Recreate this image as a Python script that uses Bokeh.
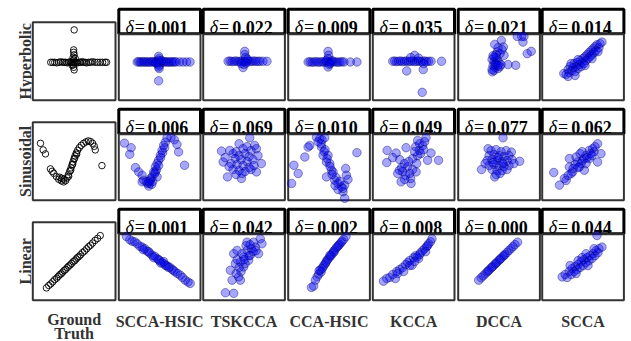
import math
from bokeh.plotting import figure
from bokeh.models import Range1d
from bokeh.core.properties import value
from bokeh.embed import file_html
from bokeh.resources import INLINE

# ---------------- data ----------------
methods = ["SCCA-HSIC", "TSKCCA", "CCA-HSIC", "KCCA", "DCCA", "SCCA"]
relations = ["Hyperbolic", "Sinusoidal", "Linear"]

delta_hyperbolic = [0.001, 0.022, 0.009, 0.035, 0.021, 0.014]
delta_sinusoidal = [0.006, 0.069, 0.010, 0.049, 0.077, 0.062]
delta_linear = [0.001, 0.042, 0.002, 0.008, 0.000, 0.044]

# ground truth samples (x, y measured downward), panel extent 83 x 78
hyp_gt = [(18, 40), (20, 40), (22, 40), (24, 40.5), (26, 40), (28, 39.5), (30, 40), (31.5, 40), (33, 40),
          (34.5, 40.5), (36, 40), (37.5, 39.5), (39, 40), (40, 40.5), (41, 40), (42, 39.5), (43, 40), (44, 40),
          (45, 40.5), (46.5, 40), (48, 40), (49.5, 39.5), (51, 40), (52.5, 40), (54, 40.5), (56, 40), (58, 40),
          (60, 39.5), (62.5, 40), (65, 40), (67.5, 40), (70, 40), (72.5, 40), (74, 40),
          (41, 27.6), (41, 30), (41.5, 32.5), (40.5, 35), (41, 37.5), (40.5, 42.5), (41, 45), (41.5, 47.6),
          (42.5, 36), (39.5, 43), (41.5, 7.6)]
sin_gt = [(7.7, 21), (10.4, 27.6), (12.7, 31.6), (69.4, 43.3),
          (17.7, 46.6), (19.4, 49), (21, 51), (23.7, 54.3), (26, 57), (28.7, 58.6), (31, 59.6), (33, 58.3),
          (34.4, 55.6), (35.7, 52.3), (37, 49), (38.4, 45.6), (39.4, 42.6), (40.4, 39.6), (41.4, 36.6),
          (42.4, 33.6), (43.7, 30.6), (45, 28), (46.7, 25.3), (48.7, 23), (51, 21), (53.4, 19.6), (55.7, 18.6),
          (58, 19.3), (60, 21), (61.7, 24), (62.7, 27.6), (36, 54), (38, 48), (40, 42), (42, 36), (44, 32),
          (29, 56), (31, 57), (27, 55)]
lin_gt = [(13.7, 65.6), (16, 63.2), (18, 61.6), (20, 59.5), (22, 57.3), (24, 55.8), (25.5, 54.2), (27, 52.5),
          (28.5, 51.5), (30, 49.8), (31.5, 48.2), (33, 47.1), (34.5, 45.4), (36, 43.8), (37.5, 42.7), (39, 41.1),
          (40.5, 39.4), (42, 38.4), (43.5, 36.7), (45, 35.1), (46.5, 34), (48, 32.4), (50, 30.2), (52, 28.7),
          (54, 26.5), (56, 24.4), (58, 22.9), (60, 20.7), (62.5, 18.1), (65, 16.1), (67.7, 13.3)]

# method samples (x, y measured downward), panel extent 82 x 67
hyp_scca_hsic = [(18.5, 28.4), (20, 28), (21.5, 28.6), (23, 28.4), (24.5, 28), (26, 28.6), (27.5, 28.4), (29, 28.2),
                 (30.5, 28.6), (32, 28.4), (33.5, 28), (35, 28.5), (36.5, 28.4), (38, 28), (39.5, 28.6), (41, 28.4),
                 (42.5, 28.2), (44, 28.6), (45.5, 28.4), (47, 28), (48.5, 28.4), (50, 28.6), (51.5, 28.2), (53, 28.4),
                 (54.5, 28.5), (56, 28.2), (57.5, 28.4), (61, 28.4), (64.5, 28.4), (68, 28.4), (71.5, 28.4),
                 (40, 22.7), (40.5, 24.8), (40, 26.7), (39.5, 30.5), (40.5, 32), (40, 33.5), (40.5, 35), (43, 27),
                 (37, 29.5), (40, 47.4)]
hyp_tskcca = [(25, 27.7), (27, 27.5), (29, 28), (31, 27.7), (33, 27.4), (35, 28), (37, 27.7), (39, 27.4), (41, 28),
              (43, 27.7), (45, 27.4), (47, 28), (49, 27.7), (51, 27.4), (53, 27.8), (55, 27.7), (57, 27.7), (60, 27.7),
              (64, 27.7), (41.7, 17.7), (41.7, 21), (42.5, 24), (41, 31), (40, 34), (44.5, 25.5), (38, 30), (43, 29.5)]
hyp_cca_hsic = [(20, 28.4), (22, 28.2), (24, 28.6), (26, 28.4), (28, 28), (30, 28.6), (32, 28.4), (34, 28.2),
                (36, 28.6), (38, 28.4), (40, 28), (42, 28.6), (44, 28.4), (46, 28.2), (48, 28.4), (50, 28.6),
                (52, 28.4), (54, 28.2), (56, 28.4), (62.4, 28.4), (69, 28.4), (40, 17.7), (40.5, 21.7), (40, 25),
                (41, 31), (40, 33.4), (38, 27), (44, 27), (42, 30)]
hyp_kcca = [(20, 27.7), (22, 27.5), (24, 28), (26, 27.7), (28, 27.4), (30, 28), (32, 27.7), (34, 27.4), (36, 28),
            (38, 27.7), (40, 27.4), (42, 28), (44, 27.7), (46, 27.4), (48, 28), (50, 27.7), (52, 27.4), (54, 28),
            (56, 27.7), (58.5, 27.7), (69, 27.7), (34, 37.4), (50.6, 36), (49.6, 59), (42, 21.7), (38, 24),
            (46, 24.5), (51, 30)]
hyp_dcca = [(36.7, 10.7), (43.3, 6.7), (45.3, 13.3), (39.3, 18.3), (46, 21.7), (36, 23.3), (50, 31), (57.7, 31.7),
            (34.3, 38.3), (59.3, 2.7), (63.7, 2.7), (66, 2.7), (65, 8.3), (69.3, 20), (73.3, 17.7), (40, 14), (42, 20),
            (44, 16), (38, 21), (34, 26), (36, 28), (38, 30), (35, 32), (37, 34), (40, 35), (42, 33), (36, 37),
            (34, 36), (39, 27), (41, 29), (43, 31), (38, 24), (35, 22), (37, 31), (40, 32)]
hyp_scca = [(21.7, 40), (24, 41), (26, 36), (27, 39), (28, 33), (30, 37), (31, 34), (32, 30), (33, 38), (34, 33),
            (35, 29), (36, 35), (37, 31), (38, 27), (39, 33), (40, 29), (41, 25), (42, 30), (43, 23), (44, 27),
            (45, 21), (46, 25), (47, 19), (48, 23), (49, 17), (50, 21), (51, 15), (52, 19), (53, 13), (54, 17),
            (55, 11), (57, 14), (58, 10), (60, 8.3), (29, 30), (36, 26), (43, 32), (50, 25), (33, 42), (26, 43),
            (56, 18)]

sin_scca_hsic = [(5.7, 9.4), (12.4, 14), (11, 20.7), (60, 18.3), (66, 31.7), (48.4, 4), (52.4, 4), (55.7, 6),
                 (58.4, 10.7), (46.7, 8.4), (45, 11.7), (43.4, 16.7), (41.7, 21.7), (40, 26.7), (38.4, 30),
                 (36.7, 33.4), (35, 38.4), (33.4, 43.4), (31.7, 46.7), (31, 50), (30, 52.7), (16.7, 34), (20, 38.4),
                 (23.4, 41.7), (25, 46.7), (23.4, 48.4), (27.7, 48.4), (36.7, 38.4), (38.4, 43.4), (32, 45),
                 (34, 48), (29, 50), (33, 51), (30, 48), (36, 40), (38, 36), (40, 32), (42, 24), (44, 19), (46, 14)]
sin_tskcca = [(46.7, 4), (36, 10), (18.4, 17.4), (26.7, 16.7), (51.7, 11.7), (53.4, 15), (20, 28.4), (58.4, 30),
              (24.4, 43.4), (38.4, 45), (53.4, 38.4), (30, 20), (33, 18), (40, 15), (44, 13), (48, 17), (36, 22),
              (42, 20), (46, 23), (32, 25), (38, 26), (44, 28), (50, 26), (28, 30), (34, 31), (40, 32), (46, 34),
              (30, 36), (36, 37), (42, 38), (48, 36), (33, 41), (39, 40), (26, 33), (55, 22), (22, 24), (51, 32)]
sin_cca_hsic = [(28.4, 3.4), (31.7, 5), (36.7, 4), (21.7, 11.7), (20, 13.4), (16.7, 23.4), (5.7, 31.7), (10, 40),
                (3.4, 50), (33.4, 13.4), (35, 21.7), (40, 21.7), (38.4, 28.4), (41.7, 30), (43.4, 36.7), (45, 38.4),
                (46.7, 46.7), (50, 50), (53.4, 53.4), (56.7, 51.7), (55, 58.4), (56.7, 65), (58.4, 41.7), (57.7, 35),
                (38.4, 43.4), (69, 19), (30, 8), (33, 10), (37, 16), (42, 33), (48, 44), (52, 48), (55, 55), (50, 56),
                (47, 52), (44, 41), (39, 25), (36, 18), (60, 46), (34, 6)]
sin_kcca = [(53.4, 4), (45, 6.7), (14.4, 16.7), (14, 29), (23.4, 19.4), (33.4, 14), (58.4, 19.4), (66, 26.7),
            (55, 26.7), (26.7, 36.7), (25, 40), (28.4, 48.4), (38.4, 50), (38, 45), (43.4, 38.4), (40, 36), (35, 33),
            (31.7, 30), (40, 25), (46.7, 16.7), (50, 12), (43, 13), (48, 20), (51, 16), (45, 22), (42, 18), (36, 28),
            (30, 38), (33, 42), (37, 40), (32, 46), (29, 34), (47, 10), (52, 8), (20, 24), (27, 26), (44, 30)]
sin_dcca = [(45, 4), (61.7, 27.7), (23.4, 36), (30, 15), (53.4, 18.4), (36.7, 43.4), (33, 17), (38, 16), (43, 18),
            (48, 17), (31, 22), (36, 21), (41, 22), (46, 23), (51, 22), (29, 27), (34, 26), (39, 27), (44, 28),
            (49, 27), (54, 26), (31, 32), (36, 31), (41, 32), (46, 33), (51, 32), (34, 36), (39, 37), (44, 37),
            (49, 36), (38, 41), (42, 40), (27, 30), (56, 30), (40, 24), (35, 29), (45, 30)]
sin_scca = [(17.3, 51.7), (11.6, 39), (22.3, 45), (24, 47), (30.6, 38.4), (27.3, 33.4), (35.6, 28.4), (34, 23.4),
            (40.6, 26.7), (44, 21.7), (47.3, 25), (47.3, 16.7), (42.3, 36.7), (50.6, 15), (55.6, 10), (59, 20),
            (55.6, 28.4), (27.3, 25), (37.3, 33.4), (33, 31), (39, 30), (42, 25), (45, 24), (49, 20), (52, 18),
            (38, 20), (31, 35), (29, 40), (36, 34), (44, 30), (50, 22), (53, 13), (26, 42), (40, 18)]

lin_scca_hsic = [(7.7, 2.7), (13.4, 7.4), (18.4, 10), (23.4, 13.4), (28.4, 17.4), (33.4, 21.7), (38.4, 25),
                 (43.4, 29), (48.4, 32.4), (53.4, 35.7), (56.7, 38.4), (61.7, 41.7), (66.7, 46.7), (71.7, 50),
                 (69.5, 48.5), (11, 6), (16, 8), (21, 12.5), (26, 15), (31, 19.5), (36, 22.5), (41, 27), (46, 30.5),
                 (51, 33.5), (55, 37), (59, 40), (64, 44), (24.5, 16), (30, 18), (35, 24), (40, 26), (45, 28),
                 (50, 34), (47, 32), (42, 29.5)]
lin_tskcca = [(22.3, 59.4), (30.6, 60), (29, 46.7), (27.3, 36.7), (32.3, 30), (30.6, 20), (34, 16.7), (40.6, 23.4),
              (44, 8.4), (50.6, 8.4), (57.3, 5), (59, 10), (55.6, 20), (47.3, 21.7), (37.3, 46.7), (35.6, 43.4),
              (40.6, 33.4), (45.6, 26.7), (37.3, 28.4), (48.3, 15), (52.3, 13.4), (44, 16.7), (38, 38), (42, 30),
              (46, 22), (50, 18), (36, 34), (41, 26), (53, 17), (43, 12), (39, 20), (33, 40), (47, 11), (34, 26)]
lin_cca_hsic = [(23.3, 54), (25.6, 52.7), (29, 43.4), (30.6, 40.7), (32.3, 36.7), (35, 33.4), (37.3, 30), (39, 26.7),
                (41.6, 23.4), (44, 20), (45.6, 17.4), (48.3, 14), (50.6, 11.7), (53, 9), (55.6, 5.7), (58, 2.7),
                (27.3, 46.7), (33, 38.5), (36, 31.5), (40, 25.5), (43, 22), (47, 16), (51.5, 10.5), (31, 37),
                (34, 35), (38, 28.5), (42, 21.5), (46, 18.5), (49.5, 13), (54, 7.5)]
lin_kcca = [(10.7, 47.7), (14, 45), (17, 44), (20, 41), (22.7, 45), (24, 38), (27, 36), (30, 34), (33, 31), (35, 29),
            (37, 27), (39.4, 31.7), (41, 24), (43, 22), (44.4, 23.4), (46, 25), (48, 19), (50, 17), (52, 15),
            (54, 13), (56, 10), (58, 8), (59.4, 5), (25, 40), (31, 38), (37, 32), (42, 28), (47, 21), (53, 18),
            (55, 12)]
lin_dcca = [(20.6, 46.7), (23, 44.3), (25, 42.4), (27, 40.4), (29, 38.5), (31, 36.5), (33, 34.5), (35, 32.6),
            (37, 30.6), (39, 28.6), (41, 26.7), (43, 24.7), (45, 22.7), (47, 20.8), (49, 18.8), (51, 16.8),
            (53, 14.9), (55, 12.9), (57, 10.9), (59.6, 8.4), (30, 37.5), (34, 33.5), (38, 29.6), (42, 25.7),
            (46, 21.8)]
lin_scca = [(20, 43.4), (23, 41), (25, 44), (27, 38), (29, 41), (30, 35), (32, 38), (33, 33), (35, 36), (36, 31),
            (38, 34), (39, 28), (41, 32), (42, 26), (44, 29), (45, 24), (47, 27), (48, 22), (50, 25), (51, 20),
            (53, 22), (54, 17), (56, 19), (57, 15), (60, 13.4), (55, 1.7), (40, 24), (34, 40), (46, 32), (52, 15),
            (28, 32), (44, 20), (36, 27)]

ground_truth = [hyp_gt, sin_gt, lin_gt]
samples = [
    [hyp_scca_hsic, hyp_tskcca, hyp_cca_hsic, hyp_kcca, hyp_dcca, hyp_scca],
    [sin_scca_hsic, sin_tskcca, sin_cca_hsic, sin_kcca, sin_dcca, sin_scca],
    [lin_scca_hsic, lin_tskcca, lin_cca_hsic, lin_kcca, lin_dcca, lin_scca],
]
deltas = [delta_hyperbolic, delta_sinusoidal, delta_linear]

GT_EXTENT = (83, 78)      # data extent of ground-truth panels
M_EXTENT = (82, 67)       # data extent of method panels

# ---------------- layout (picture pixels) ----------------
W, H = 631, 341
X0, Y0 = 0, 0                                   # figure origin in the picture
ROW_TOP = [7.3, 107.3, 207.3]                   # top of delta boxes per row
GT_LEFT, GT_RIGHT = 32.3, 115
COL_LEFT = [118.3, 202.7, 287.7, 372.3, 457.7, 541.7]
COL_W = 81.7
BOX_H = 26
PANEL_H = 66.5
SERIF = value("Liberation Serif")
LABEL_COLOR = "#333333"

p = figure(width=W, height=H, x_range=Range1d(X0, X0 + W), y_range=Range1d(Y0 + H, Y0),
           output_backend="svg", toolbar_location=None, min_border=0,
           x_axis_location=None, y_axis_location=None, title=None)
p.xgrid.visible = False
p.ygrid.visible = False
p.outline_line_color = None
p.background_fill_color = "white"
p.border_fill_color = "white"


def add_ranges(name, left, right, top, bottom, extent):
    kx = (right - left) / extent[0]
    ky = (bottom - top) / extent[1]
    p.extra_x_ranges[name + "x"] = Range1d((X0 - left) / kx, (X0 + W - left) / kx)
    p.extra_y_ranges[name + "y"] = Range1d((Y0 + H - top) / ky, (Y0 - top) / ky)
    return name + "x", name + "y"


def xs(pts):
    return [a for a, _ in pts]


def ys(pts):
    return [b for _, b in pts]


for r, rel in enumerate(relations):
    top = ROW_TOP[r]
    panel_top = top + BOX_H
    panel_bot = panel_top + PANEL_H
    gt_top = top + 14.5

    # row label
    p.text(x=[25], y=[(gt_top + panel_bot) / 2], text=[rel], angle=math.pi / 2,
           text_font=SERIF, text_font_style="bold", text_font_size="16px",
           text_color=LABEL_COLOR, text_align="center", text_baseline="alphabetic")

    # ground-truth panel
    p.quad(left=[GT_LEFT], right=[GT_RIGHT], top=[gt_top], bottom=[panel_bot],
           fill_color="white", line_color="#333333", line_width=2)
    xn, yn = add_ranges("gt%d" % r, GT_LEFT, GT_RIGHT, gt_top, panel_bot, GT_EXTENT)
    g = ground_truth[r]
    p.scatter(x=xs(g), y=ys(g), size=6.5, marker="circle", fill_color=None,
              line_color="black", line_width=0.9, x_range_name=xn, y_range_name=yn)

    for c, m in enumerate(methods):
        L = COL_LEFT[c]
        R = L + COL_W
        # delta box
        p.quad(left=[L], right=[R], top=[top + 1.5], bottom=[panel_top],
               fill_color="white", line_color="black", line_width=3)
        base = top + 19.5
        p.text(x=[L + 15], y=[base], text=["\u03b4"], text_font=SERIF, text_font_style="italic",
               text_font_size="18px", text_color="black", text_align="right", text_baseline="alphabetic")
        p.text(x=[L + 21], y=[base], text=["="], text_font=SERIF, text_font_style="normal",
               text_font_size="18px", text_color="black", text_align="center", text_baseline="alphabetic")
        p.text(x=[L + 29], y=[base], text=["%.3f" % deltas[r][c]], text_font=SERIF, text_font_style="bold",
               text_font_size="18px", text_color="black", text_align="left", text_baseline="alphabetic")
        # scatter panel
        p.quad(left=[L], right=[R], top=[panel_top + 0.5], bottom=[panel_bot],
               fill_color="white", line_color="#333333", line_width=2)
        xn, yn = add_ranges("m%d_%d" % (r, c), L, R, panel_top, panel_bot, M_EXTENT)
        s = samples[r][c]
        p.scatter(x=xs(s), y=ys(s), size=8.5, marker="circle", fill_color="blue", fill_alpha=0.35,
                  line_color="#000066", line_alpha=0.5, line_width=0.8,
                  x_range_name=xn, y_range_name=yn)

# column labels
p.text(x=[(GT_LEFT + GT_RIGHT) / 2] * 2, y=[319, 333], text=["Ground", "Truth"], text_font=SERIF,
       text_font_style="bold", text_font_size="16px", text_color=LABEL_COLOR,
       text_align="center", text_baseline="alphabetic")
p.text(x=[L0 + COL_W / 2 for L0 in COL_LEFT], y=[321] * len(methods), text=methods, text_font=SERIF,
       text_font_style="bold", text_font_size="16px", text_color=LABEL_COLOR,
       text_align="center", text_baseline="alphabetic")

open("out.html", "w").write(file_html(p, INLINE))
